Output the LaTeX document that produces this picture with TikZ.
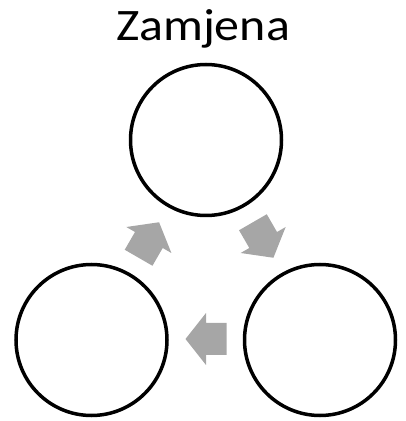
\documentclass[tikz,border=0pt]{standalone}
\usepackage{fontspec}
\setmainfont{Carlito}
\definecolor{flowgray}{HTML}{A6A6A6}
\begin{document}
\begin{tikzpicture}[x=1pt,y=1pt,
  stage/.style={circle,draw=black,line width=3.5pt,minimum size=151pt,inner sep=0pt},
  flowarrow/.style={fill=flowgray}
]
\useasboundingbox (0,0) rectangle (406,421);
% title
\node[anchor=base,font=\fontsize{45}{50}\selectfont,xscale=1.11] (title) at (203,380.3) {Zamjena};
% three stages
\node[stage] (top) at (206,281) {};
\node[stage] (right) at (320,81) {};
\node[stage] (left) at (91.5,81) {};
% block arrows around the cycle centre
\coordinate (hub) at (206,148);
\foreach \pos in {270,30,150}{
  \begin{scope}[shift={(hub)},rotate=\pos,shift={(66,0)},rotate=-90]
    \fill[flowarrow] (-20.5,-16) -- (0,-16) -- (0,-26) -- (20.5,0)
      -- (0,26) -- (0,16) -- (-20.5,16) -- cycle;
  \end{scope}
}
\end{tikzpicture}
\end{document}
